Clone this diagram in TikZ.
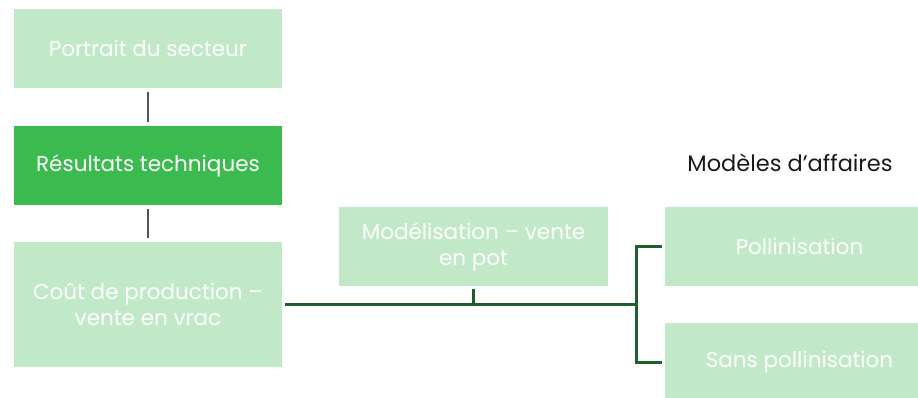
\documentclass[tikz,border=0pt]{standalone}
\usepackage{fontspec}
\setmainfont{Poppins}
\definecolor{lightg}{HTML}{C1E9C8}
\definecolor{darkg}{HTML}{3BBA4F}
\definecolor{lineg}{HTML}{1E5E2A}
\definecolor{lineh}{HTML}{555555}
\begin{document}
\begin{tikzpicture}[x=1pt,y=-1pt]
\tikzset{
  box/.style={fill=lightg, text=white, inner sep=0pt, align=center,
    minimum width=268pt, minimum height=79pt, font=\fontsize{21.5}{26}\selectfont},
  hilite/.style={box, fill=darkg},
  grayline/.style={draw=lineh, line width=2pt, shorten <=4pt, shorten >=4pt},
  greenline/.style={draw=lineg, line width=3pt},
  title/.style={text=black!90, font=\fontsize{22.5}{26}\selectfont, inner sep=0pt}
}
\useasboundingbox (0,0) rectangle (918,397);
\clip (0,0) rectangle (918,397);
\node[box] (p) at (148,48.5) {Portrait du secteur};
\node[hilite] (r) at (148,165.5) {Résultats techniques};
\node[box, minimum height=125pt] (c) at (148,304.5) {Coût de production –\\vente en vrac};
\node[box, minimum width=269pt] (m) at (473.5,246.5) {Modélisation – vente\\en pot};
\node[box, minimum width=269pt] (pl) at (799.5,246.5) {Pollinisation};
\node[box, minimum width=269pt] (sa) at (799.5,362.5) {Sans pollinisation};
\node[title] (t) at (790,163) {Modèles d’affaires};
\coordinate (j) at (636,304);
\draw[grayline] (p.south) -- (r.north);
\draw[grayline] (r.south) -- (c.north);
\draw[greenline, shorten <=3pt] (c.east |- j) -- (j);
\draw[greenline, shorten <=3pt] (m.south) -- (m.south |- j);
\draw[greenline, shorten >=3pt] (j) |- (pl.west);
\draw[greenline, shorten >=3pt] (j) |- (sa.west);
\end{tikzpicture}
\end{document}
